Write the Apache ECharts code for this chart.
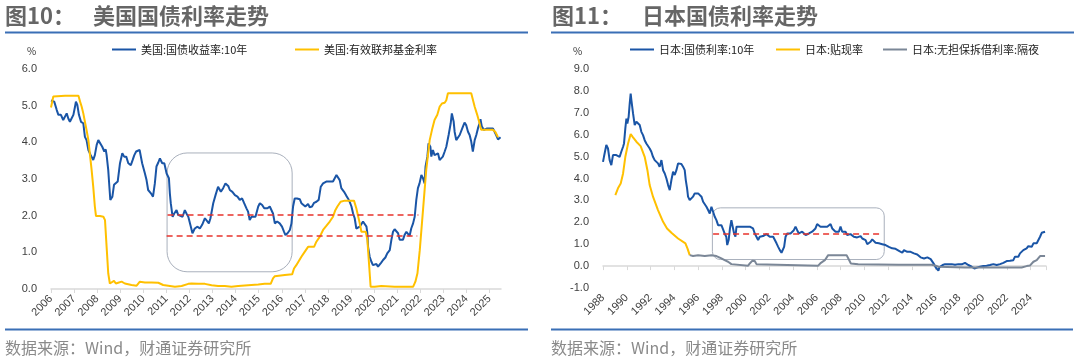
<!DOCTYPE html>
<html><head><meta charset="utf-8">
<script src="https://cdn.jsdelivr.net/npm/echarts@6/dist/echarts.min.js"></script>
<style>html,body{margin:0;padding:0;background:#fff}#c{width:1080px;height:360px}</style>
</head><body><div id="c"></div>
<script>
// ---- data: [decimal year, %] ----
const us10y = [[2006.00,5.14],[2006.14,5.11],[2006.25,4.88],[2006.32,4.75],[2006.43,4.75],[2006.53,4.61],[2006.61,4.65],[2006.68,4.79],[2006.75,4.65],[2006.82,4.56],[2006.89,4.65],[2006.97,4.75],[2007.04,4.97],[2007.08,5.11],[2007.14,5.02],[2007.21,4.75],[2007.30,4.56],[2007.40,4.52],[2007.47,4.15],[2007.54,4.06],[2007.62,3.79],[2007.72,3.65],[2007.83,3.52],[2007.90,3.65],[2007.98,3.93],[2008.05,4.06],[2008.12,4.02],[2008.22,3.88],[2008.31,3.75],[2008.37,3.81],[2008.41,3.65],[2008.48,3.25],[2008.53,2.79],[2008.57,2.43],[2008.66,2.52],[2008.73,2.84],[2008.81,2.81],[2008.89,2.93],[2008.99,3.43],[2009.09,3.70],[2009.17,3.61],[2009.26,3.61],[2009.35,3.43],[2009.46,3.38],[2009.54,3.52],[2009.61,3.65],[2009.69,3.75],[2009.75,3.70],[2009.84,3.79],[2009.91,3.84],[2009.95,3.43],[2010.07,3.15],[2010.14,2.97],[2010.21,2.70],[2010.33,2.61],[2010.42,2.52],[2010.50,2.88],[2010.57,3.34],[2010.65,3.45],[2010.72,3.56],[2010.82,3.43],[2010.91,3.43],[2011.01,3.15],[2011.11,3.02],[2011.15,2.61],[2011.19,2.34],[2011.27,1.97],[2011.34,2.06],[2011.44,2.15],[2011.51,2.02],[2011.58,1.97],[2011.70,1.97],[2011.80,2.15],[2011.87,2.06],[2011.95,1.97],[2012.06,1.70],[2012.13,1.52],[2012.23,1.65],[2012.35,1.70],[2012.45,1.65],[2012.55,1.75],[2012.67,1.93],[2012.74,1.97],[2012.84,1.79],[2012.91,1.93],[2013.03,2.34],[2013.13,2.56],[2013.24,2.79],[2013.36,2.65],[2013.46,2.75],[2013.56,2.88],[2013.68,2.81],[2013.75,2.70],[2013.86,2.65],[2013.97,2.56],[2014.08,2.52],[2014.18,2.43],[2014.28,2.47],[2014.37,2.34],[2014.47,2.20],[2014.54,2.11],[2014.61,1.88],[2014.69,1.97],[2014.76,2.02],[2014.86,1.97],[2014.98,2.25],[2015.05,2.34],[2015.15,2.29],[2015.24,2.20],[2015.29,2.15],[2015.38,2.20],[2015.48,2.25],[2015.55,2.20],[2015.62,2.06],[2015.70,1.79],[2015.80,1.84],[2015.91,1.79],[2016.01,1.70],[2016.10,1.56],[2016.16,1.47],[2016.25,1.52],[2016.35,1.61],[2016.42,1.79],[2016.49,2.25],[2016.56,2.47],[2016.66,2.47],[2016.78,2.45],[2016.85,2.34],[2016.92,2.29],[2017.02,2.25],[2017.14,2.32],[2017.21,2.23],[2017.31,2.25],[2017.40,2.35],[2017.50,2.38],[2017.60,2.43],[2017.69,2.79],[2017.79,2.88],[2017.86,2.84],[2017.93,2.93],[2018.01,2.97],[2018.12,2.93],[2018.22,2.93],[2018.29,2.97],[2018.37,3.11],[2018.44,3.11],[2018.51,2.97],[2018.58,2.75],[2018.70,2.65],[2018.80,2.54],[2018.87,2.47],[2018.94,2.38],[2019.02,2.25],[2019.09,2.06],[2019.16,1.93],[2019.23,1.65],[2019.30,1.65],[2019.38,1.70],[2019.45,1.75],[2019.52,1.84],[2019.59,1.79],[2019.67,1.70],[2019.71,1.52],[2019.74,1.15],[2019.81,0.88],[2019.88,0.75],[2019.95,0.65],[2020.03,0.70],[2020.10,0.68],[2020.17,0.61],[2020.24,0.65],[2020.31,0.72],[2020.39,0.79],[2020.49,0.86],[2020.57,0.97],[2020.68,1.06],[2020.75,1.34],[2020.82,1.56],[2020.89,1.63],[2020.96,1.61],[2021.04,1.52],[2021.11,1.34],[2021.18,1.29],[2021.25,1.34],[2021.32,1.47],[2021.40,1.56],[2021.47,1.52],[2021.54,1.45],[2021.61,1.65],[2021.69,1.79],[2021.76,1.97],[2021.83,2.43],[2021.90,2.75],[2021.97,2.88],[2022.05,3.11],[2022.12,3.02],[2022.19,2.88],[2022.23,3.34],[2022.31,3.61],[2022.36,3.97],[2022.44,3.88],[2022.48,3.61],[2022.55,3.79],[2022.62,3.65],[2022.70,3.61],[2022.77,3.70],[2022.84,3.52],[2022.91,3.47],[2022.98,3.61],[2023.06,3.75],[2023.13,3.88],[2023.23,4.20],[2023.32,4.52],[2023.37,4.79],[2023.45,4.56],[2023.49,4.29],[2023.56,4.06],[2023.63,4.11],[2023.71,4.20],[2023.78,4.25],[2023.85,4.43],[2023.92,4.54],[2023.99,4.47],[2024.07,4.29],[2024.14,4.20],[2024.21,4.02],[2024.28,3.75],[2024.36,4.06],[2024.43,4.20],[2024.50,4.38],[2024.57,4.52],[2024.61,4.63],[2024.67,4.43],[2024.76,4.34],[2024.82,4.29],[2024.90,4.38],[2025.00,4.38],[2025.08,4.34],[2025.15,4.38],[2025.22,4.34],[2025.29,4.20],[2025.37,4.08],[2025.44,4.11],[2025.48,4.14]];

const usFedFunds = [[2006.00,4.95],[2006.10,5.25],[2006.17,5.27],[2006.61,5.27],[2006.68,5.25],[2006.75,5.27],[2007.19,5.27],[2007.26,5.11],[2007.33,4.97],[2007.40,4.79],[2007.47,4.56],[2007.54,4.34],[2007.62,4.06],[2007.69,3.65],[2007.76,3.25],[2007.83,2.79],[2007.90,2.25],[2007.95,1.99],[2008.12,1.99],[2008.27,1.97],[2008.34,1.88],[2008.41,1.15],[2008.48,0.43],[2008.55,0.15],[2008.62,0.14],[2008.73,0.22],[2008.81,0.15],[2008.91,0.17],[2009.06,0.20],[2009.20,0.15],[2009.49,0.11],[2009.71,0.09],[2009.85,0.20],[2010.07,0.18],[2010.36,0.18],[2010.65,0.17],[2010.86,0.11],[2011.08,0.09],[2011.37,0.06],[2011.66,0.08],[2011.95,0.14],[2012.09,0.15],[2012.38,0.14],[2012.67,0.14],[2012.96,0.10],[2013.24,0.08],[2013.53,0.08],[2013.82,0.06],[2014.11,0.08],[2014.54,0.10],[2014.98,0.12],[2015.26,0.14],[2015.52,0.14],[2015.62,0.29],[2015.70,0.35],[2016.13,0.38],[2016.45,0.40],[2016.53,0.56],[2016.63,0.65],[2016.85,0.88],[2017.00,1.02],[2017.14,1.15],[2017.40,1.15],[2017.50,1.29],[2017.65,1.43],[2017.79,1.61],[2017.93,1.72],[2018.08,1.84],[2018.22,1.97],[2018.32,2.15],[2018.41,2.25],[2018.55,2.38],[2018.73,2.41],[2019.13,2.41],[2019.23,2.20],[2019.38,1.79],[2019.45,1.56],[2019.64,1.56],[2019.71,1.34],[2019.77,0.79],[2019.85,0.06],[2020.03,0.06],[2020.31,0.08],[2020.89,0.06],[2021.32,0.06],[2021.69,0.06],[2021.79,0.20],[2021.88,0.43],[2021.98,1.06],[2022.12,2.15],[2022.26,3.25],[2022.41,4.06],[2022.51,4.34],[2022.62,4.61],[2022.74,4.75],[2022.84,4.97],[2022.94,5.06],[2023.06,5.08],[2023.13,5.15],[2023.20,5.34],[2024.21,5.34],[2024.36,4.97],[2024.47,4.75],[2024.57,4.52],[2024.64,4.34],[2025.15,4.34],[2025.25,4.29],[2025.37,4.14]];

const jp10y = [[1988.00,4.76],[1988.08,4.99],[1988.28,5.53],[1988.42,5.37],[1988.56,4.84],[1988.70,4.61],[1988.84,5.07],[1988.98,5.14],[1989.12,5.07],[1989.26,5.14],[1989.40,4.99],[1989.54,5.22],[1989.69,5.45],[1989.77,5.60],[1989.88,6.29],[1989.97,6.74],[1990.05,6.51],[1990.16,6.82],[1990.25,7.43],[1990.33,7.88],[1990.39,7.58],[1990.53,6.97],[1990.67,6.44],[1990.81,6.59],[1990.95,6.67],[1991.09,6.44],[1991.23,6.13],[1991.37,5.98],[1991.51,5.75],[1991.65,5.60],[1991.79,5.68],[1991.93,5.37],[1992.07,5.22],[1992.21,4.99],[1992.35,4.84],[1992.49,4.92],[1992.63,4.69],[1992.77,4.54],[1992.92,4.84],[1993.06,4.38],[1993.20,4.23],[1993.34,4.00],[1993.48,3.70],[1993.62,3.47],[1993.76,3.93],[1993.90,4.31],[1994.04,4.16],[1994.18,4.38],[1994.32,4.69],[1994.46,4.69],[1994.60,4.66],[1994.74,4.54],[1994.88,4.38],[1994.97,3.93],[1995.08,3.55],[1995.16,3.17],[1995.30,3.01],[1995.44,3.09],[1995.58,3.17],[1995.72,3.32],[1995.87,3.35],[1996.01,3.32],[1996.15,3.24],[1996.29,3.17],[1996.43,2.94],[1996.57,2.86],[1996.71,2.71],[1996.85,2.56],[1996.99,2.40],[1997.13,2.71],[1997.27,2.48],[1997.41,2.25],[1997.55,2.10],[1997.69,1.87],[1997.83,1.95],[1997.97,1.87],[1998.11,1.80],[1998.24,1.49],[1998.38,1.34],[1998.46,0.96],[1998.58,1.19],[1998.69,1.72],[1998.81,2.10],[1998.92,1.80],[1999.04,1.49],[1999.15,1.34],[1999.24,1.80],[1999.38,1.87],[1999.52,1.80],[1999.66,1.87],[1999.80,1.80],[1999.94,1.84],[2000.08,1.80],[2000.22,1.83],[2000.36,1.80],[2000.49,1.87],[2000.63,1.72],[2000.78,1.49],[2000.92,1.34],[2001.06,1.19],[2001.20,1.34],[2001.34,1.26],[2001.48,1.37],[2001.62,1.34],[2001.76,1.46],[2001.90,1.42],[2002.04,1.34],[2002.19,1.26],[2002.33,1.34],[2002.47,1.19],[2002.61,1.04],[2002.75,0.88],[2002.89,0.73],[2003.03,0.61],[2003.17,0.55],[2003.25,0.88],[2003.37,1.34],[2003.51,1.49],[2003.65,1.42],[2003.79,1.49],[2003.93,1.42],[2004.07,1.64],[2004.21,1.80],[2004.35,1.64],[2004.49,1.49],[2004.63,1.42],[2004.77,1.57],[2004.91,1.49],[2005.06,1.42],[2005.19,1.34],[2005.34,1.49],[2005.48,1.49],[2005.61,1.57],[2005.75,1.52],[2005.89,1.72],[2006.03,1.92],[2006.17,1.87],[2006.31,1.80],[2006.46,1.83],[2006.60,1.80],[2006.74,1.72],[2006.88,1.80],[2007.02,1.87],[2007.16,1.92],[2007.30,1.72],[2007.44,1.64],[2007.58,1.57],[2007.72,1.64],[2007.86,1.57],[2008.00,1.80],[2008.14,1.57],[2008.29,1.49],[2008.42,1.57],[2008.56,1.42],[2008.70,1.37],[2008.84,1.46],[2008.98,1.42],[2009.12,1.34],[2009.26,1.37],[2009.40,1.31],[2009.54,1.34],[2009.69,1.37],[2009.83,1.26],[2009.97,1.22],[2010.11,1.19],[2010.25,1.00],[2010.39,0.96],[2010.53,1.11],[2010.67,1.22],[2010.81,1.16],[2010.95,1.07],[2011.09,1.04],[2011.23,1.04],[2011.37,1.04],[2011.51,1.00],[2011.65,1.04],[2011.79,0.96],[2011.93,0.93],[2012.07,0.88],[2012.21,0.85],[2012.35,0.81],[2012.49,0.76],[2012.63,0.79],[2012.78,0.73],[2012.92,0.70],[2013.06,0.70],[2013.20,0.61],[2013.34,0.73],[2013.48,0.65],[2013.62,0.65],[2013.76,0.61],[2013.90,0.65],[2014.04,0.61],[2014.18,0.58],[2014.32,0.58],[2014.46,0.53],[2014.60,0.47],[2014.74,0.40],[2014.88,0.35],[2015.03,0.35],[2015.17,0.43],[2015.31,0.40],[2015.45,0.35],[2015.59,0.32],[2015.73,0.27],[2015.87,0.09],[2016.01,-0.06],[2016.15,-0.15],[2016.24,-0.21],[2016.32,-0.06],[2016.46,0.00],[2016.60,0.05],[2016.80,0.09],[2017.08,0.08],[2017.36,0.09],[2017.64,0.06],[2017.93,0.09],[2018.21,0.08],[2018.48,0.15],[2018.63,0.09],[2018.76,0.05],[2019.04,-0.03],[2019.27,-0.11],[2019.40,-0.18],[2019.55,-0.06],[2019.74,-0.03],[2020.02,0.00],[2020.30,0.02],[2020.58,0.05],[2020.87,0.09],[2021.15,0.05],[2021.43,0.09],[2021.71,0.15],[2021.85,0.20],[2021.99,0.23],[2022.27,0.24],[2022.55,0.27],[2022.69,0.43],[2022.83,0.50],[2022.97,0.43],[2023.11,0.58],[2023.25,0.65],[2023.39,0.73],[2023.53,0.65],[2023.67,0.81],[2023.81,0.91],[2023.96,0.88],[2024.10,0.88],[2024.24,1.04],[2024.38,1.11],[2024.52,1.04],[2024.66,1.19],[2024.80,1.34],[2024.94,1.52],[2025.08,1.49],[2025.22,1.57]];

const jpDiscount = [[1989.04,3.24],[1989.26,3.55],[1989.49,3.77],[1989.69,4.23],[1989.88,4.99],[1990.11,5.60],[1990.33,6.03],[1990.53,5.88],[1990.81,5.68],[1991.17,5.48],[1991.51,4.99],[1991.74,4.38],[1991.93,3.70],[1992.21,3.17],[1992.63,2.56],[1993.06,2.02],[1993.39,1.72],[1993.76,1.52],[1994.32,1.26],[1994.94,1.04],[1995.11,0.81],[1995.30,0.50]];

const jpCallRate = [[1995.30,0.50],[1995.58,0.46],[1996.01,0.50],[1996.57,0.46],[1997.13,0.50],[1997.55,0.46],[1997.97,0.35],[1998.24,0.27],[1998.53,0.20],[1998.81,0.09],[1998.95,0.02],[2000.22,0.02],[2000.36,0.12],[2000.56,0.24],[2000.78,0.23],[2000.92,0.09],[2001.06,0.02],[2006.12,0.02],[2006.35,0.15],[2006.68,0.27],[2006.96,0.50],[2008.51,0.50],[2008.70,0.30],[2008.87,0.12],[2009.49,0.09],[2012.86,0.06],[2015.67,0.06],[2016.01,0.02],[2016.24,-0.03],[2018.48,-0.06],[2021.29,-0.06],[2023.25,-0.06],[2023.67,0.00],[2023.96,0.03],[2024.24,0.20],[2024.52,0.27],[2024.80,0.46],[2025.22,0.46]];

const seriesNames = ['美国:国债收益率:10年','美国:有效联邦基金利率','日本:国债利率:10年','日本:贴现率','日本:无担保拆借利率:隔夜'];

// ---- styles ----
const CJK = '"Noto Sans CJK SC","Noto Sans",sans-serif';
const NUM = 'Arial,"Liberation Sans","DejaVu Sans",sans-serif';
const BLUE = '#1a55a6', YELLOW = '#ffc000', GRAY = '#7b8797', RED = '#e8332d';
const AXC = '#d9d9d9', LBL = '#404040';
const yearFmt = v => Math.abs(v - Math.round(v)) < 1e-6 ? String(Math.round(v)) : '';
const xLabel = {rotate:45, fontSize:11, color:LBL, fontFamily:NUM, margin:8, formatter:yearFmt, showMaxLabel:false};
const yLabel = {fontSize:11, color:LBL, fontFamily:NUM, margin:14, formatter:v => v.toFixed(1)};
const legendBase = (name, left) => ({data:[name], left:left, top:44, padding:0, itemWidth:24, itemHeight:2, icon:'rect', selectedMode:false, textStyle:{fontSize:11, color:'#222', fontFamily:CJK}});
const dash = (data) => ({silent:true, symbol:'none', animation:false, label:{show:false}, lineStyle:{color:RED, type:[6,4], width:1.5}, data:data});
const line = (name, data, color, xi, extra) => Object.assign({name, type:'line', data, xAxisIndex:xi, yAxisIndex:xi, showSymbol:false, symbol:'none', color, lineStyle:{color, width:2}, z:3}, extra||{});

const chart = echarts.init(document.getElementById('c'), null, {renderer:'canvas'});
chart.setOption({
  animation:false,
  backgroundColor:'#fff',
  grid:[
    {left:51, top:69, width:450, height:220},
    {left:603, top:69, width:443, height:219},
    {left:603, top:69, width:443, height:219}
  ],
  legend:[
    legendBase(seriesNames[0], 112),
    legendBase(seriesNames[1], 295),
    legendBase(seriesNames[2], 630),
    legendBase(seriesNames[3], 776),
    legendBase(seriesNames[4], 883)
  ],
  xAxis:[
    {gridIndex:0, type:'value', min:2006, max:2025.5, interval:1, splitLine:{show:false},
     axisLine:{lineStyle:{color:AXC, width:1.5}}, axisTick:{length:4, lineStyle:{color:AXC}}, axisLabel:xLabel},
    {gridIndex:1, type:'value', min:1988, max:2025.3, interval:2, splitLine:{show:false},
     axisLine:{onZero:true, lineStyle:{color:AXC, width:1.5}}, axisTick:{length:4, lineStyle:{color:AXC}}, axisLabel:{show:false}},
    {gridIndex:2, type:'value', min:1988, max:2025.3, interval:2, splitLine:{show:false},
     axisLine:{show:false, onZero:false}, axisTick:{show:false}, axisLabel:xLabel}
  ],
  yAxis:[
    {gridIndex:0, type:'value', min:0, max:6, interval:1, splitLine:{show:false}, axisLine:{show:false}, axisTick:{show:false}, axisLabel:yLabel},
    {gridIndex:1, type:'value', min:-1, max:9, interval:1, splitLine:{show:false}, axisLine:{show:false}, axisTick:{show:false}, axisLabel:yLabel},
    {gridIndex:2, type:'value', min:-1, max:9, interval:1, show:false}
  ],
  series:[
    line(seriesNames[0], us10y, BLUE, 0, {markLine: dash([
      [{coord:[2011.05,2.02]},{coord:[2021.92,2.02]}],
      [{coord:[2011.01,1.46]},{coord:[2021.87,1.46]}]
    ])}),
    line(seriesNames[1], usFedFunds, YELLOW, 0),
    line(seriesNames[2], jp10y, BLUE, 1, {markLine: dash([
      [{coord:[1997.27,1.48]},{coord:[2011.40,1.48]}]
    ])}),
    line(seriesNames[3], jpDiscount, YELLOW, 1),
    line(seriesNames[4], jpCallRate, GRAY, 1)
  ]
});

// ---- decorations (boxes placed in data space) ----
function box(gridIndex, a, b, r) {
  const p1 = chart.convertToPixel({gridIndex}, a);
  const p2 = chart.convertToPixel({gridIndex}, b);
  return {type:'rect', z:1, silent:true,
    shape:{x:p1[0], y:p1[1], width:p2[0]-p1[0], height:p2[1]-p1[1], r:r},
    style:{fill:null, stroke:'#a9b0bc', lineWidth:1}};
}
const txt = (x, y, text, size, color, weight) => ({type:'text', x, y, silent:true,
  style:{text, fontSize:size, fill:color, fontFamily:CJK, fontWeight:weight||'normal', textVerticalAlign:'middle', textAlign:'left'}});
const hline = (x1, x2, y) => ({type:'line', silent:true, shape:{x1, y1:y, x2, y2:y}, style:{stroke:'#3a6fb6', lineWidth:2}});

chart.setOption({graphic:[
  txt(5, 16, '图10：', 22, '#666', 'bold'),
  txt(93, 16, '美国国债利率走势', 22, '#666', 'bold'),
  txt(552, 16, '图11：', 22, '#666', 'bold'),
  txt(642, 16, '日本国债利率走势', 22, '#666', 'bold'),
  hline(5, 528, 32.5),
  hline(551, 1074, 32.5),
  hline(5, 528, 329.5),
  hline(551, 1073, 329.5),
  txt(27, 51, '%', 10, '#333'),
  txt(573, 51, '%', 10, '#333'),
  txt(5, 348, '数据来源：Wind，财通证券研究所', 16, '#8a8a8a'),
  txt(551, 348, '数据来源：Wind，财通证券研究所', 16, '#8a8a8a'),
  box(0, [2011.03, 3.71], [2016.45, 0.47], 20),
  box(1, [1997.21, 2.66], [2011.68, 0.30], 8)
]});
</script></body></html>
